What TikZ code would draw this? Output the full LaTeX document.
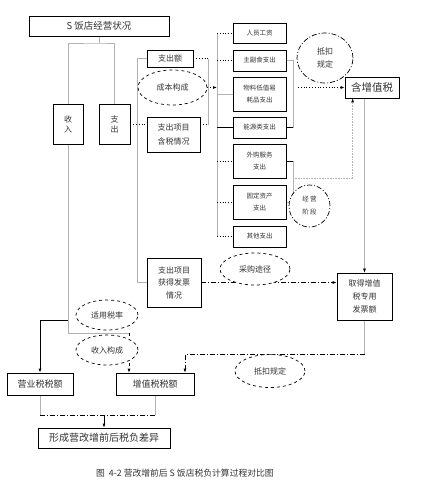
\documentclass[tikz,border=0pt]{standalone}
\usepackage{fontspec}
\setmainfont{Noto Sans CJK SC}
\usetikzlibrary{shapes.geometric,arrows.meta,backgrounds}
\tikzset{
  box/.style={draw,fill=white,align=center,inner sep=1pt,line width=0.7pt,text=black!80},
  item/.style={box,minimum width=53pt,font=\fontsize{6.5}{12}\selectfont},
  oval/.style={ellipse,draw,dashed,fill=white,align=center,inner sep=0pt,line width=0.7pt,text=black!80,font=\fontsize{8}{13}\selectfont},
  gline/.style={draw=black!30,line width=0.6pt},
  dline/.style={dotted,line width=0.8pt},
  dashdot/.style={dash pattern=on 5pt off 2pt on 1pt off 2pt,line width=0.7pt},
  arr/.style={-{Latex[length=4pt,width=3pt,black]}}
}
\begin{document}
\begin{tikzpicture}[x=1pt,y=-1pt]
\useasboundingbox (0,0) rectangle (424,490);

% left part
\node[box,minimum width=140pt,minimum height=20pt,font=\fontsize{9.5}{11}\selectfont] (top) at (99,26) {S 饭店经营状况};
\node[box,minimum width=30pt,minimum height=40pt,font=\fontsize{8}{10}\selectfont] (income) at (68,124) {收\\入};
\node[box,minimum width=31pt,minimum height=40pt,font=\fontsize{8}{10}\selectfont] (expend) at (114.5,124) {支\\出};
\node[box,minimum width=46pt,minimum height=17pt,font=\fontsize{8}{10}\selectfont] (amount) at (170,58.5) {支出额};
\node[oval,minimum width=69pt,minimum height=35pt] (costmix) at (172.5,87.5) {成本构成};
\node[box,minimum width=53pt,minimum height=35pt,font=\fontsize{8}{14}\selectfont] (taxsit) at (173.5,134.5) {支出项目\\含税情况};
\node[box,minimum width=54pt,minimum height=49pt,font=\fontsize{8}{12.5}\selectfont] (invoice) at (174,282.5) {支出项目\\获得发票\\情况};
\node[oval,minimum width=70pt,minimum height=32pt] (purchase) at (255,269) {采购途径};

% cost items
\node[item,minimum height=20pt] (c1) at (259.5,33) {人员工资};
\node[item,minimum height=21pt] (c2) at (259.5,60.5) {主副食支出};
\node[item,minimum height=34pt] (c3) at (259.5,94) {物料低值易\\耗品支出};
\node[item,minimum height=21pt] (c4) at (259.5,127.5) {能源类支出};
\node[item,minimum height=34pt] (c5) at (259.5,161) {外购服务\\支出};
\node[item,minimum height=34pt] (c6) at (259.5,202) {固定资产\\支出};
\node[item,minimum height=21pt] (c7) at (259.5,236.5) {其他支出};

% right part
\node[oval,dash pattern=on 5pt off 2pt on 1pt off 2pt,minimum width=56pt,minimum height=50pt] (deduct) at (325,58) {抵扣\\规定};
\node[oval,dash pattern=on 5pt off 2pt on 1pt off 2pt,minimum width=41pt,minimum height=42pt,font=\fontsize{6.5}{13}\selectfont] (stage) at (309.5,206) {经 营\\阶 段};
\node[box,minimum width=54pt,minimum height=21pt,font=\fontsize{10.5}{12}\selectfont] (vatin) at (372,87.5) {含增值税};
\node[box,minimum width=55pt,minimum height=47pt,font=\fontsize{8}{13}\selectfont] (vatinv) at (364.5,296.5) {取得增值\\税专用\\发票额};
\node[oval,minimum width=70pt,minimum height=33pt] (deduct2) at (270,371) {抵扣规定};

% bottom part
\node[oval,minimum width=62pt,minimum height=30pt] (rate) at (107,315) {适用税率};
\node[oval,minimum width=62pt,minimum height=30pt] (incmix) at (107,350) {收入构成};
\node[box,minimum width=66pt,minimum height=22pt,font=\fontsize{9}{11}\selectfont] (biztax) at (40,384) {营业税税额};
\node[box,minimum width=78pt,minimum height=22pt,font=\fontsize{9}{11}\selectfont] (vattax) at (155,384) {增值税税额};
\node[box,minimum width=132pt,minimum height=20pt,font=\fontsize{10}{12}\selectfont] (diff) at (104,438) {形成营改增前后税负差异};
\node[font=\fontsize{8.8}{10}\selectfont,text=black!80] (caption) at (185,473) {图\ \ 4-2\ 营改增前后 S 饭店税负计算过程对比图};

\coordinate (split) at (99,43);
\coordinate (bus) at (217,0);
\coordinate (rb) at (293,0);

\begin{scope}[on background layer]
% top split
\draw[gline] (top.south) -- (split);
\draw[gline] (income.north) |- (split) -| (expend.north);
% expenses
\draw[dline] (expend.east) -- (expend.east -| taxsit.west);
\draw[gline] (amount.west) -- ++(-9,0) |- (invoice.west);
\draw[dline] (amount.east) -- ++(15,0) coordinate (bt);
\draw[gline] (bt) -- (bt |- taxsit.20);
\draw[dline] (taxsit.20) -- (taxsit.20 -| bt);
\draw[dline,arr] (costmix.east) -- (costmix.east -| bus);
% bus to items
\draw[gline] (c1.west -| bus) -- (c7.west -| bus);
\foreach \n in {1,2,5,6,7}
  \draw[dline] (c\n.west -| bus) -- (c\n.west);
\draw[gline] (c3.west -| bus) -- (c3.west);
\draw[line width=0.8pt] (c4.west -| bus) -- (c4.west);
% items to vat
\draw[gline] (c2.east) -- (c2.east -| rb) -- (c4.east -| rb);
\draw[line width=0.8pt] (c4.east) -- (c4.east -| rb);
\draw[dline,arr] (vatin.west -| rb) ++(5,0) -- (vatin.west);
\draw[line width=0.8pt] (c5.east) -- (c5.east -| rb);
\draw[gline] (c5.east -| rb) -- (c6.east -| rb) -- (c6.east);
\draw[gline,densely dotted,arr] (c5.south east -| rb) -| ([xshift=8pt]vatin.south west);
\draw[gline,arr] (vatin.south -| vatinv.north) -- (vatinv.north);
\draw[dashdot,arr] (invoice.east) -- (invoice.east -| vatinv.west);
\draw[gline] (vatinv.south) -- ++(0,34) coordinate (vk);
\draw[dashdot,arr] (vk) -| ([xshift=30pt]vattax.north);
% income
\draw[gline] (income.south) -- ++(0,176) coordinate (ik);
\draw[line width=0.8pt,arr] (ik) -| (biztax.north);
\draw[gline] (ik) -- ++(0,13) -- ++(61,0) coordinate (iv);
\draw[dashed,line width=0.7pt,arr] (iv) -- (iv |- vattax.north);
% result
\draw[gline] (biztax.south) -- ++(0,20) coordinate (bj);
\draw[gline] (vattax.south) -- (vattax.south |- bj) coordinate (vj);
\draw[dashdot] (bj) -- (vj);
\draw[line width=0.7pt,arr] (diff.north |- bj) -- (diff.north);
\end{scope}

\end{tikzpicture}
\end{document}
